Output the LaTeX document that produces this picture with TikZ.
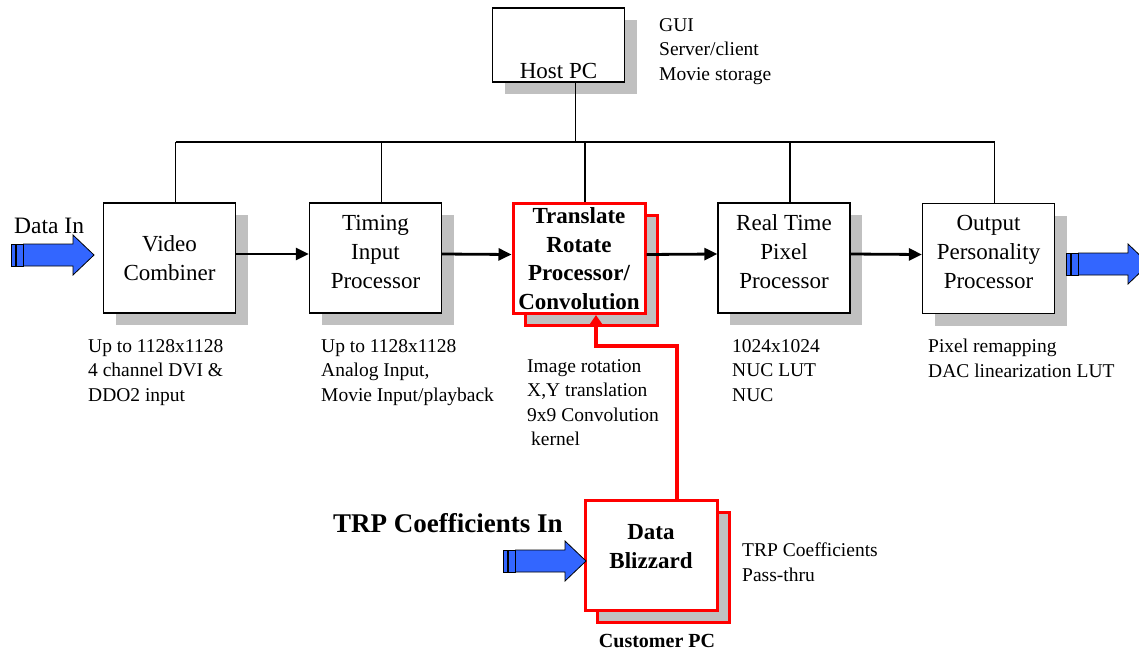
\documentclass[tikz,border=0pt]{standalone}
\usepackage{fontspec}
\setmainfont{Liberation Serif}
\usepackage{tikz}
\usetikzlibrary{arrows.meta}
\usetikzlibrary{shadows, calc}
\definecolor{arrowblue}{RGB}{51,102,255}
\definecolor{shadowgray}{RGB}{192,192,192}
\definecolor{linkred}{RGB}{255,0,0}

% striped block arrow: start x, centre y
\newcommand{\stripedarrow}[2]{%
  \filldraw[fill=arrowblue, draw=black, line width=0.8pt] (#1,#2-11) rectangle (#1+4,#2+11);
  \filldraw[fill=arrowblue, draw=black, line width=0.8pt] (#1+5.5,#2-11) rectangle (#1+12,#2+11);
  \filldraw[fill=arrowblue, draw=black, line width=0.8pt] (#1+12.5,#2-11) -- (#1+62,#2-11) -- (#1+62,#2-20)
    -- (#1+83,#2) -- (#1+62,#2+20) -- (#1+62,#2+11) -- (#1+12.5,#2+11) -- cycle;
}

\begin{document}
\begin{tikzpicture}[x=1pt, y=-1pt,
    blk/.style={draw, line width=1.3pt, fill=white, minimum width=132pt, minimum height=110pt,
      inner sep=2pt, align=center, font=\fontsize{23}{29}\selectfont},
    grayshadow/.style={drop shadow={shadow xshift=12pt, shadow yshift=-12pt, fill=shadowgray, opacity=1}},
    redshadow/.style={drop shadow={shadow xshift=12pt, shadow yshift=-12pt, fill=shadowgray,
      draw=linkred, line width=3pt, opacity=1}},
    redblk/.style={blk, redshadow, draw=linkred, line width=3pt, font=\fontsize{23}{28.5}\selectfont\bfseries},
    note/.style={anchor=north west, inner sep=0pt, align=left, font=\fontsize{19.5}{24.5}\selectfont},
    flow/.style={line width=2.8pt, -{Triangle[length=13pt, width=12pt]}},
    busline/.style={line width=1.2pt},
    redlink/.style={draw=linkred, line width=4pt, -{Triangle[length=10pt, width=13pt]}}]
    \useasboundingbox (0,0) rectangle (1139,654);

    % boxes
    \node[blk, grayshadow, minimum height=74pt, text height=68pt] (host) at (558.5,45) {Host PC};
    \node[blk, grayshadow] (vc) at (169.5,258) {Video\\Combiner};
    \node[blk, grayshadow, text depth=13pt] (tip) at (375.5,258) {Timing\\Input\\Processor};
    \node[redblk] (trp) at (579,258.5) {Translate\\Rotate\\Processor/\\Convolution};
    \node[blk, grayshadow, text depth=13pt] (rtp) at (784,258) {Real Time\\Pixel\\Processor};
    \node[blk, grayshadow, text depth=13pt] (opp) at (988.5,258.5) {Output\\Personality\\Processor};
    \node[redblk, text depth=17pt] (db) at (651,555) {Data\\Blizzard};

    % notes
    \node[note] (hostnote) at (659,18) {GUI\\Server/client\\Movie storage};
    \node[note] (vcnote) at (88,339) {Up to 1128x1128\\4 channel DVI \&\\DDO2 input};
    \node[note] (tipnote) at (321,339) {Up to 1128x1128\\Analog Input,\\Movie Input/playback};
    \node[note] (trpnote) at (527,359) {Image rotation\\X,Y translation\\9x9 Convolution\\\hspace*{4pt}kernel};
    \node[note] (rtpnote) at (732,339) {1024x1024\\NUC LUT\\NUC};
    \node[note] (oppnote) at (928,339) {Pixel remapping\\DAC linearization LUT};
    \node[note] (dbnote) at (742,543) {TRP Coefficients\\Pass-thru};
    \node[anchor=west, inner sep=0pt, font=\fontsize{23.5}{28}\selectfont] (datain) at (14,226) {Data In};
    \node[anchor=west, inner sep=0pt, font=\fontsize{27}{32}\selectfont\bfseries] (trpin) at (333,523) {TRP Coefficients In};
    \node[inner sep=0pt, font=\fontsize{20}{24}\selectfont\bfseries] (cpc) at (657,641) {Customer PC};

    % bus to host
    \coordinate (bus) at (0,142);
    \foreach \b in {vc,tip,trp,rtp,opp}
      \draw[busline] ([xshift=6pt]\b.north) -- ([xshift=6pt]\b.north |- bus);
    \draw[busline] ([xshift=6pt]vc.north |- bus) -- ([xshift=6pt]opp.north |- bus);
    \draw[busline] ([xshift=17pt]host.south) -- ([xshift=17pt]host.south |- bus);

    % data path
    \foreach \a/\b in {vc/tip, tip/trp, trp/rtp, rtp/opp}
      \draw[flow] ([yshift=4pt]\a.east) -- ([yshift=4pt]\b.west);

    % coefficients
    \coordinate (bend) at (640,346);
    \draw[redlink] ([xshift=26pt]db.north) |- (bend) -| ([xshift=17pt]trp.south);

    \stripedarrow{11}{255}
    \stripedarrow{1066}{264}
    \stripedarrow{503}{561}
\end{tikzpicture}
\end{document}
